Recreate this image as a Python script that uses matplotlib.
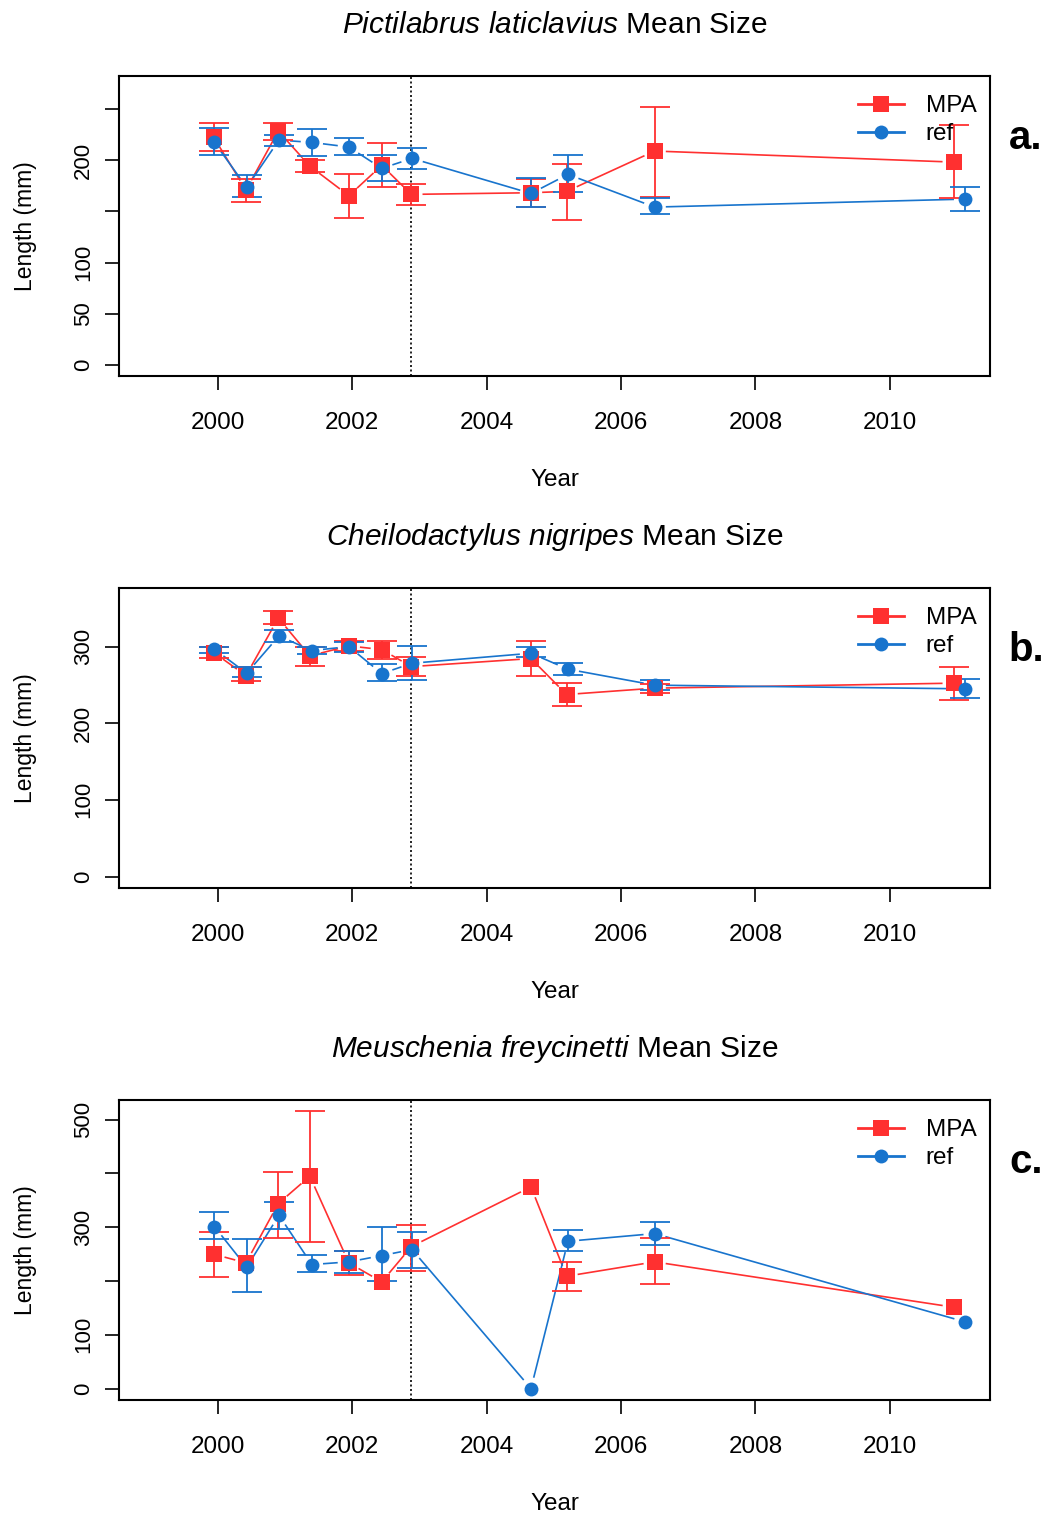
import numpy as np
import matplotlib
matplotlib.use("Agg")
import matplotlib.pyplot as plt
from matplotlib.lines import Line2D
from matplotlib.transforms import IdentityTransform

plt.rcParams["font.family"] = ["Liberation Sans", "DejaVu Sans"]
plt.rcParams["mathtext.fontset"] = "custom"
plt.rcParams["mathtext.rm"] = "Liberation Sans"
plt.rcParams["mathtext.it"] = "Liberation Sans:italic"

# survey dates (decimal year)
yr_mpa = [1999.94, 2000.42, 2000.90, 2001.37, 2001.95, 2002.44, 2002.88,
          2004.66, 2005.19, 2006.50, 2010.95]
yr_ref = [1999.95, 2000.43, 2000.91, 2001.40, 2001.95, 2002.44, 2002.89,
          2004.66, 2005.21, 2006.50, 2011.12]
protection_year = 2002.88
nan = np.nan

# a. Pictilabrus laticlavius
a_mpa = [222.3, 170.9, 228.5, 194.3, 165.4, 195.0, 166.7, 168.3, 169.6, 209.0, 198.2]
a_mpa_lo = [209.3, 158.9, 219.7, 188.5, 143.6, 174.1, 156.0, 154.6, 141.6, 163.7, 163.4]
a_mpa_hi = [236.7, 181.3, 236.7, 200.2, 186.8, 216.8, 176.8, 181.3, 196.6, 251.6, 234.7]
a_ref = [217.4, 173.5, 219.7, 217.4, 212.9, 192.1, 201.8, 167.6, 186.2, 154.3, 162.1]
a_ref_lo = [205.4, 164.4, 214.2, 203.8, 205.1, 179.7, 191.4, 154.6, 168.9, 147.8, 150.4]
a_ref_hi = [231.8, 185.5, 224.9, 230.5, 222.0, 205.1, 212.2, 182.6, 205.1, 163.1, 174.1]

# b. Cheilodactylus nigripes
b_mpa = [292.1, 262.1, 337.2, 287.8, 300.8, 296.0, 273.8, 284.3, 237.4, 245.7, 252.2]
b_mpa_lo = [284.7, 254.8, 329.8, 274.7, 293.9, 284.2, 261.7, 262.1, 222.7, 239.2, 230.1]
b_mpa_hi = [299.9, 273.0, 346.3, 300.0, 306.9, 307.3, 286.0, 307.3, 252.6, 250.9, 273.0]
b_ref = [296.4, 265.2, 313.8, 294.7, 299.9, 264.7, 278.2, 291.2, 270.4, 249.6, 244.8]
b_ref_lo = [292.0, 260.0, 305.6, 290.0, 292.6, 254.8, 256.5, 286.0, 263.4, 243.5, 232.2]
b_ref_hi = [300.0, 273.0, 322.0, 299.0, 305.6, 277.3, 301.2, 299.9, 279.0, 256.5, 258.2]

# c. Meuschenia freycinetti
c_mpa = [249.7, 233.6, 343.9, 394.7, 233.6, 198.3, 263.9, 374.9, 208.8, 235.5, 151.2]
c_mpa_lo = [208.2, nan, 280.1, 272.7, 210.6, nan, 219.3, nan, 181.5, 195.2, nan]
c_mpa_hi = [290.6, nan, 403.3, 515.5, 256.5, nan, 304.8, nan, 234.8, 280.1, nan]
c_ref = [301.1, 225.5, 322.2, 230.5, 235.5, 247.2, 258.4, 0.0, 273.8, 288.1, 123.9]
c_ref_lo = [277.6, 179.1, 296.8, 216.2, 215.6, 199.4, 223.6, nan, 256.5, 267.0, nan]
c_ref_hi = [327.8, 277.6, 347.6, 247.8, 256.5, 299.8, 290.6, nan, 294.3, 310.4, nan]

panels = [
    ("Pictilabrus laticlavius", "a.", (a_mpa, a_mpa_lo, a_mpa_hi), (a_ref, a_ref_lo, a_ref_hi),
     (-10.7, 282.5), [0, 50, 100, 150, 200, 250], ["0", "50", "100", "", "200", ""]),
    ("Cheilodactylus nigripes", "b.", (b_mpa, b_mpa_lo, b_mpa_hi), (b_ref, b_ref_lo, b_ref_hi),
     (-15.2, 376.7), [0, 100, 200, 300], ["0", "100", "200", "300"]),
    ("Meuschenia freycinetti", "c.", (c_mpa, c_mpa_lo, c_mpa_hi), (c_ref, c_ref_lo, c_ref_hi),
     (-21.7, 537.0), [0, 100, 200, 300, 400, 500], ["0", "100", "", "300", "", "500"]),
]

RED = "#FF3030"
BLUE = "#1874CD"
W, H = 1048, 1515


def gapped_line(ax, x, y, color, gap=12):
    # R type="b": segments stop short of each point
    pts = ax.transData.transform(np.column_stack([x, y]))
    for (x0, y0), (x1, y1) in zip(pts[:-1], pts[1:]):
        d = np.hypot(x1 - x0, y1 - y0)
        if d <= 2 * gap:
            continue
        ux, uy = (x1 - x0) / d, (y1 - y0) / d
        ax.add_line(Line2D([x0 + gap * ux, x1 - gap * ux], [y0 + gap * uy, y1 - gap * uy],
                           color=color, lw=1.2, transform=IdentityTransform()))


fig = plt.figure(figsize=(W / 100, H / 100), dpi=100)

for i, (species, tag, mpa, ref, ylim, yticks, ylabels) in enumerate(panels):
    top = 75.7 + 512 * i
    ax = fig.add_axes([119 / W, 1 - (top + 300.5) / H, 871 / W, 300.5 / H])
    ax.set_xlim(1998.53, 2011.49)
    ax.set_ylim(*ylim)

    for (m, lo, hi), yrs, col, mk, ms in [(mpa, yr_mpa, RED, "s", 11), (ref, yr_ref, BLUE, "o", 10)]:
        m = np.array(m)
        err = [m - np.array(lo), np.array(hi) - m]
        gapped_line(ax, yrs, m, col)
        ax.errorbar(yrs, m, yerr=err, fmt="none", ecolor=col,
                    elinewidth=1.3, capsize=11, capthick=1.3, zorder=3)
        ax.plot(yrs, m, ls="none", marker=mk, color=col, ms=ms, mew=0, zorder=4)

    ax.axvline(protection_year, color="black", ls=(0, (1.2, 1.5)), lw=1.2)

    ax.set_xticks([2000, 2002, 2004, 2006, 2008, 2010])
    ax.set_yticks(yticks)
    ax.set_yticklabels(ylabels, rotation=90, va="center")
    ax.tick_params(axis="x", labelsize=17.5, length=10, width=1.2, pad=16)
    ax.tick_params(axis="y", labelsize=16, length=10, width=1.2, pad=8)
    for s in ax.spines.values():
        s.set_linewidth(1.5)

    ax.set_xlabel("Year", fontsize=17.5, labelpad=25)
    ax.set_ylabel("Length (mm)", fontsize=16.5, labelpad=26)
    ax.set_title(r"$\mathit{" + species.replace(" ", r"\ ") + "}$ Mean Size",
                 fontsize=21.5, pad=31)

    handles = [Line2D([], [], color=RED, marker="s", ms=11, mew=0, lw=2),
               Line2D([], [], color=BLUE, marker="o", ms=10, mew=0, lw=2)]
    ax.legend(handles, ["MPA", "ref"], loc="upper right", frameon=False, fontsize=17.5,
              handlelength=1.9, handletextpad=0.9, labelspacing=0.25,
              borderaxespad=0.2, borderpad=0.6, bbox_to_anchor=(1 + 6 / 871, 1))

    fig.text(1026 / W, 1 - (top + 62) / H, tag, fontsize=29, fontweight="bold",
             ha="center", va="center")

fig.savefig("out.png", dpi=100)
